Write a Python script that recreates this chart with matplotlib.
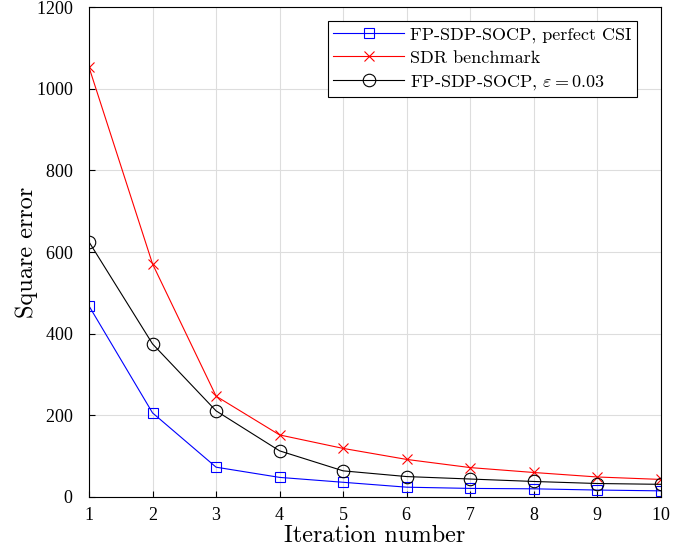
import matplotlib.pyplot as plt

plt.rcParams['font.family'] = 'serif'
plt.rcParams['font.serif'] = ['cmr10']
plt.rcParams['mathtext.fontset'] = 'cm'
plt.rcParams['axes.formatter.use_mathtext'] = True

iters = [1, 2, 3, 4, 5, 6, 7, 8, 9, 10]
perfect_csi = [468, 206, 73, 48, 36, 24, 21, 20, 17, 15]
sdr = [1053, 571, 247, 152, 119, 92, 72, 60, 49, 43]
eps_003 = [625, 375, 211, 113, 64, 50, 44, 38, 33, 31]

fig = plt.figure(figsize=(6.82, 5.53), dpi=100)
ax = fig.add_axes([0.1305, 0.1013, 0.8385, 0.8857])

ax.plot(iters, perfect_csi, color='blue', lw=0.8, marker='s', ms=7,
        mfc='none', mew=0.8, label='FP-SDP-SOCP, perfect CSI')
ax.plot(iters, sdr, color='red', lw=0.8, marker='x', ms=7,
        mew=0.8, label='SDR benchmark')
ax.plot(iters, eps_003, color='black', lw=0.8, marker='o', ms=9,
        mfc='none', mew=0.8, label=r'FP-SDP-SOCP, $\varepsilon=0.03$')

ax.set_xlim(1, 10)
ax.set_ylim(0, 1200)
ax.set_xticks(iters)
ax.set_yticks(range(0, 1201, 200))
ax.grid(True, color='#dddddd', lw=0.8)
ax.tick_params(direction='in', length=4)
ax.tick_params(axis='x', pad=7)
ax.tick_params(axis='y', pad=11)
for lab in ax.get_xticklabels() + ax.get_yticklabels():
    lab.set_family('Liberation Serif')
    lab.set_fontsize(13)
for s in ax.spines.values():
    s.set_linewidth(0.8)
ax.set_xlabel('Iteration number', fontsize=17.5, labelpad=1)
ax.set_ylabel('Square error', fontsize=17.5, labelpad=-1)

leg = ax.legend(loc='upper right', bbox_to_anchor=(0.958, 0.971), fontsize=13,
                fancybox=False, edgecolor='black', framealpha=1,
                borderpad=0.3, labelspacing=0.4, handlelength=3.9,
                handletextpad=0.35, borderaxespad=0)
leg.get_frame().set_linewidth(0.8)

fig.savefig('out.png', dpi=100)
